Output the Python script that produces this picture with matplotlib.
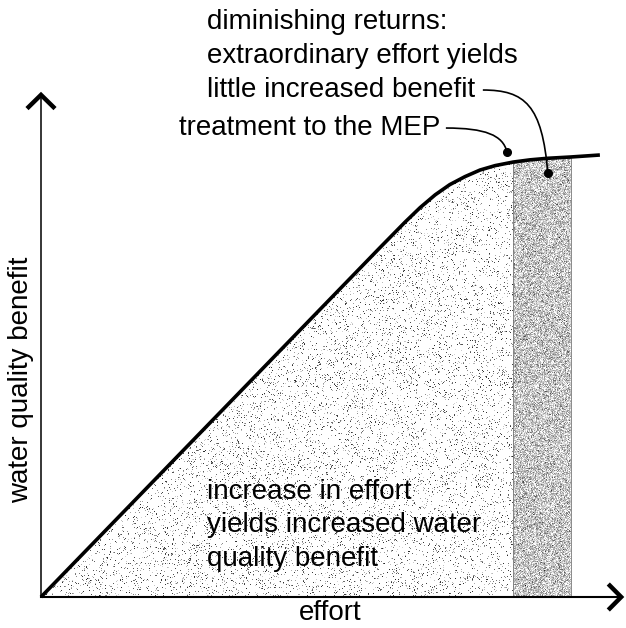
import numpy as np
import matplotlib
matplotlib.use("Agg")
import matplotlib.pyplot as plt
from matplotlib.path import Path
from matplotlib.patches import PathPatch, Polygon

plt.rcParams["font.family"] = ["Liberation Sans", "DejaVu Sans"]

# Benefit curve: linear rise, then levelling off (effort and benefit in %)
effort = [0, 60.5, 65.0, 67.7, 70.4, 73.0, 75.7, 78.4, 81.1, 84.3, 87.3,
          90.4, 94.6, 99.8]
benefit = [0, 79.0, 84.8, 88.1, 91.0, 93.3, 95.1, 96.6, 97.6, 98.4, 98.9,
           99.25, 99.55, 100.0]

# Band of diminishing returns along the effort axis
band_start = 84.3
band_end = 94.6

# Annotation targets (effort, benefit)
mep_point = (83.2, 100.7)
returns_point = (90.5, 95.9)

x_label = "effort"
y_label = "water quality benefit"
top_lines = ["diminishing returns:", "extraordinary effort yields",
             "little increased benefit"]
mep_label = "treatment to the MEP"
inner_lines = ["increase in effort", "yields increased water",
               "quality benefit"]

W, H = 626, 628
fig = plt.figure(figsize=(W / 100, H / 100), dpi=100)
ax = fig.add_axes([0, 0, 1, 1])
XL = (-41 / 5.6, (W - 41) / 5.6)
YL = (-(H - 597) / 4.42, 597 / 4.42)
ax.set_xlim(*XL)
ax.set_ylim(*YL)
ax.axis("off")

eff = np.array(effort)
ben = np.array(benefit)
i0 = int(np.argmin(np.abs(eff - band_start)))
i1 = int(np.argmin(np.abs(eff - band_end)))

# stippled fills clipped to the regions under the curve
rng = np.random.default_rng(11)
u = rng.random((H, W))
light = 1.0 - (u < 0.09) * rng.uniform(0.15, 0.85, (H, W))
dark = np.clip(rng.normal(0.78, 0.17, (H, W)), 0, 1)

light_poly = Polygon(np.column_stack([np.r_[eff[:i0 + 1], band_start, 0],
                                      np.r_[ben[:i0 + 1], 0, 0]]),
                     closed=True, fc="none", ec="none")
dark_poly = Polygon(np.column_stack([np.r_[eff[i0:i1 + 1], band_end, band_start],
                                     np.r_[ben[i0:i1 + 1], 0, 0]]),
                    closed=True, fc="none", ec="none")
for arr, poly in ((light, light_poly), (dark, dark_poly)):
    ax.add_patch(poly)
    im = ax.imshow(arr, cmap="gray", vmin=0, vmax=1, interpolation="nearest",
                   extent=(XL[0], XL[1], YL[0], YL[1]), origin="upper",
                   aspect="auto", zorder=1)
    im.set_clip_path(poly)

ax.plot([band_start, band_start], [0, ben[i0]], color="#777777", lw=0.6, zorder=2)
ax.plot([band_end, band_end], [0, ben[i1]], color="#777777", lw=0.6, zorder=2)

# axes with chevron arrowheads
ax.plot([0, 0], [0, 113.6], color="black", lw=1.1, zorder=3)
ax.plot([0, 103.4], [0, 0], color="black", lw=1.5, zorder=3)
ax.plot([-2.5, 0, 2.5], [110.5, 113.6, 110.5], color="black", lw=3.2,
        solid_joinstyle="miter", solid_capstyle="butt", zorder=3)
ax.plot([101.3, 103.6, 101.3], [2.94, 0, -2.94], color="black", lw=3.2,
        solid_joinstyle="miter", solid_capstyle="butt", zorder=3)

# benefit curve
ax.plot(eff, ben, color="black", lw=2.6, solid_capstyle="butt",
        solid_joinstyle="round", zorder=4)

# leader lines
def leader(p0, p1, p2, p3):
    path = Path([p0, p1, p2, p3], [Path.MOVETO, Path.CURVE4, Path.CURVE4, Path.CURVE4])
    ax.add_patch(PathPatch(path, fc="none", ec="black", lw=1.2, zorder=5))
    ax.plot(*p3, "o", color="black", ms=5.5, zorder=5)

leader((72.3, 106.1), (79.3, 106.1), (82.5, 104.5), mep_point)
leader((78.9, 114.7), (86.4, 114.7), (89.5, 111.3), returns_point)

fs = 20
for k, line in enumerate(top_lines):
    ax.text(29.6, 128.4 - k * 7.62, line, fontsize=fs, ha="left", va="baseline")
ax.text(24.6, 104.5, mep_label, fontsize=fs, ha="left", va="baseline")
for k, line in enumerate(inner_lines):
    ax.text(29.6, 22.2 - k * 7.6, line, fontsize=fs, ha="left", va="baseline", zorder=6)
ax.text(51.6, -5.2, x_label, fontsize=fs, ha="center", va="baseline")
ax.text(-3.6, 49.1, y_label, fontsize=fs, ha="center", va="center", rotation=90)

fig.savefig("out.png", dpi=100)
